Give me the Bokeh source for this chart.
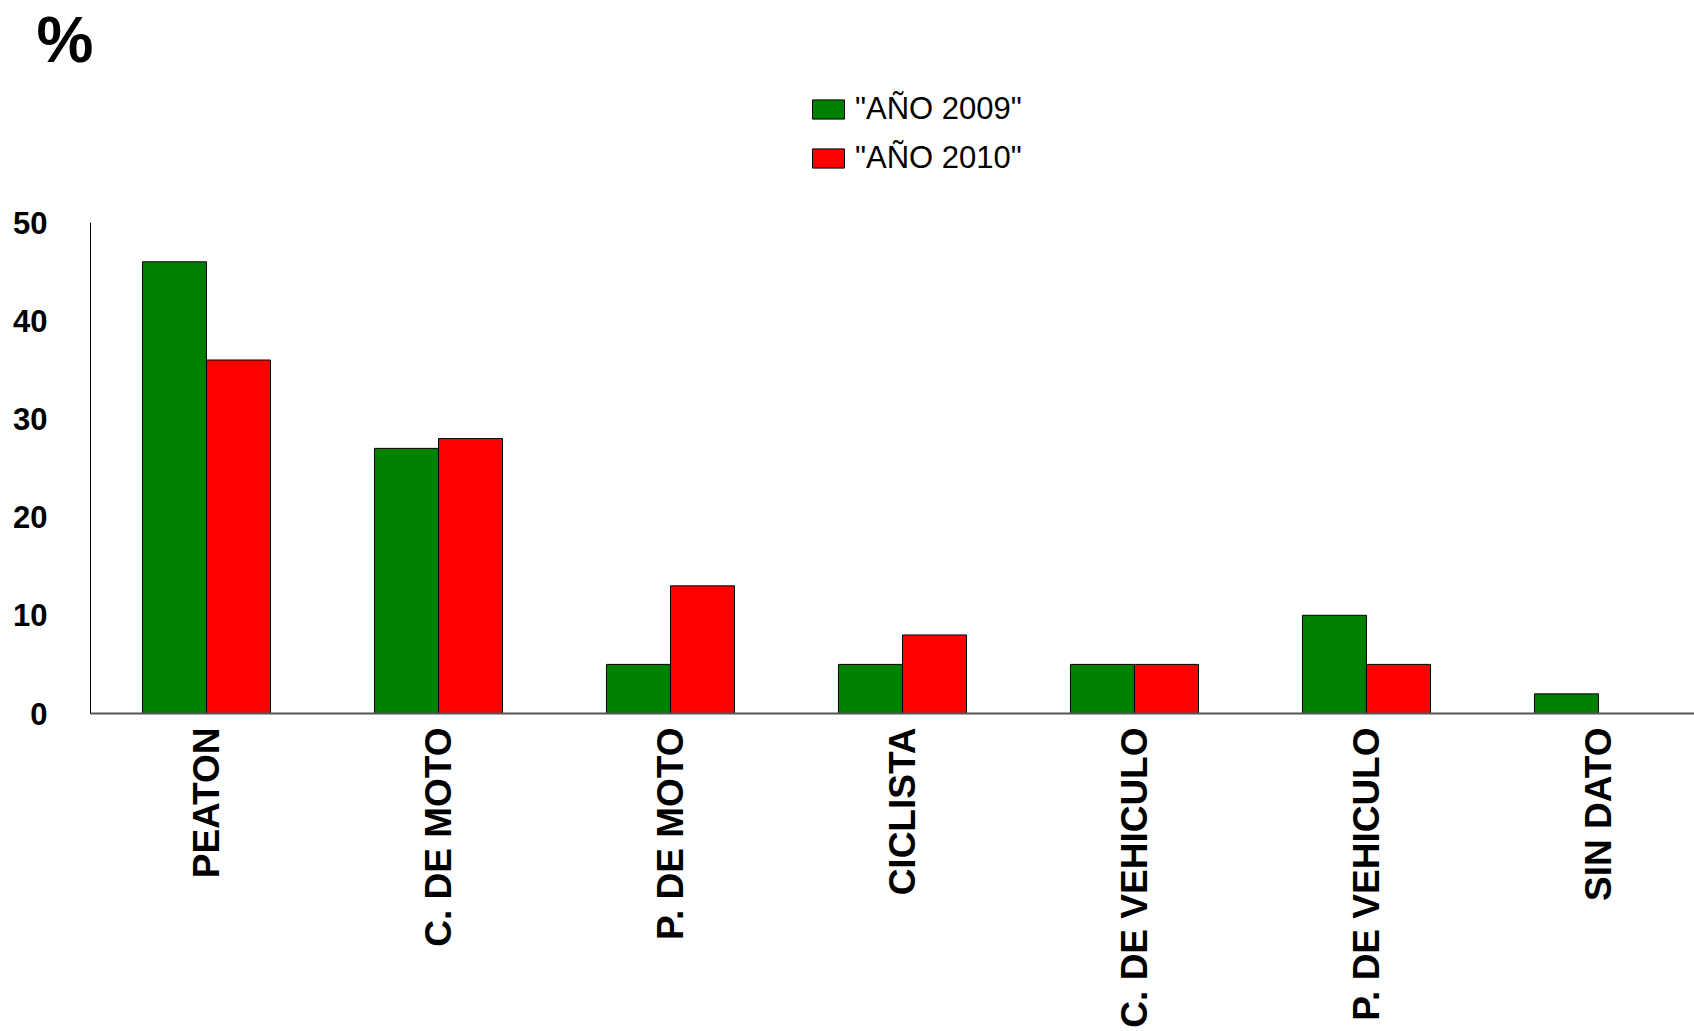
import math
from bokeh.plotting import figure
from bokeh.models import Range1d, FixedTicker, Legend, LegendItem, ColumnDataSource
from bokeh.embed import file_html
from bokeh.resources import INLINE

categories = ["PEATON", "C. DE MOTO", "P. DE MOTO", "CICLISTA",
              "C. DE VEHICULO", "P. DE VEHICULO", "SIN DATO"]
anio_2009 = [46, 27, 5, 5, 5, 10, 2]
anio_2010 = [36, 28, 13, 8, 5, 5, 0]
y_ticks = [0, 10, 20, 30, 40, 50]
series_labels = ['"AÑO 2009"', '"AÑO 2010"']
series_colors = ["#008000", "#FF0000"]

bw = 0.276
centers = [i + 0.5 for i in range(len(categories))]
src = ColumnDataSource(dict(
    cat=categories,
    x09=[c - bw / 2 for c in centers],
    x10=[c + bw / 2 for c in centers],
    y09=anio_2009,
    y10=anio_2010,
))

p = figure(width=1694, height=1031, output_backend="svg", toolbar_location=None,
           x_range=Range1d(0, 6.914), y_range=Range1d(0, 64.77),
           min_border_left=90, min_border_top=77, min_border_right=0,
           min_border_bottom=318)
p.outline_line_color = None
p.xgrid.visible = False
p.ygrid.visible = False

p.title.text = "%"
p.title.text_font = "Liberation Sans"
p.title.text_font_size = "64px"
p.title.text_font_style = "bold"
p.title.text_color = "black"
p.title.align = "left"
p.title.vertical_align = "top"
p.title.offset = -54
p.title.standoff = 0

r1 = p.vbar(x="x09", top="y09", bottom=0, width=bw, source=src,
            fill_color=series_colors[0], line_color="black", line_width=1)
r2 = p.vbar(x="x10", top="y10", bottom=0, width=bw, source=src,
            fill_color=series_colors[1], line_color="black", line_width=1)

xa = p.xaxis[0]
xa.ticker = FixedTicker(ticks=centers)
xa.major_label_overrides = {c: n for c, n in zip(centers, categories)}
xa.major_label_orientation = math.pi / 2
xa.major_label_text_font = "Liberation Sans"
xa.major_label_text_font_style = "bold"
xa.major_label_text_font_size = "37px"
xa.major_label_text_color = "black"
xa.major_label_standoff = 14
xa.major_tick_out = 0
xa.major_tick_in = 0
xa.minor_tick_out = 0
xa.minor_tick_in = 0
xa.axis_line_color = "#555555"
xa.axis_line_width = 2

ya = p.yaxis[0]
ya.ticker = FixedTicker(ticks=y_ticks)
ya.bounds = (0, 50)
ya.major_label_text_font = "Liberation Sans"
ya.major_label_text_font_style = "bold"
ya.major_label_text_font_size = "31px"
ya.major_label_text_color = "black"
ya.major_label_standoff = 43
ya.major_tick_out = 0
ya.major_tick_in = 0
ya.minor_tick_out = 0
ya.minor_tick_in = 0
ya.axis_line_color = "black"
ya.axis_line_width = 1

legend = Legend(items=[LegendItem(label=series_labels[0], renderers=[r1]),
                       LegendItem(label=series_labels[1], renderers=[r2])],
                location=(718, 537), orientation="vertical",
                label_text_font="Liberation Sans", label_text_font_size="31px",
                label_text_color="black",
                glyph_width=40, glyph_height=24, spacing=13, padding=0, margin=0,
                label_standoff=7, border_line_alpha=0, background_fill_alpha=0)
p.add_layout(legend, "center")

open("out.html", "w").write(file_html(p, INLINE))
